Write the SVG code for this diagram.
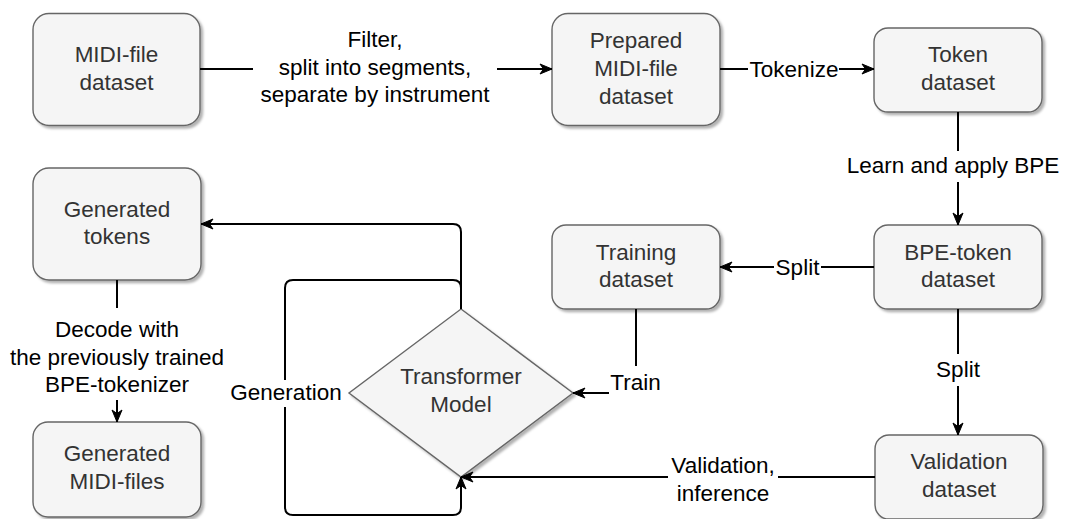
<svg xmlns="http://www.w3.org/2000/svg" width="1072" height="519" viewBox="0 0 1072 519">
  <style>
    .node { fill: #f5f5f5; stroke: #666666; stroke-width: 1.4; filter: url(#shadow); }
    .ntext { font-family: "Liberation Sans", Arial, sans-serif; font-size: 22.5px; fill: #333333; text-anchor: middle; }
    .edge { fill: none; stroke: #000000; stroke-width: 2; }
    .arrow { marker-end: url(#arrowhead); }
    .lbg { fill: #ffffff; }
    .ltext { font-family: "Liberation Sans", Arial, sans-serif; font-size: 22.5px; fill: #000000; text-anchor: middle; }
  </style>
  <defs>
    <filter id="shadow" x="-10%" y="-10%" width="130%" height="130%">
      <feDropShadow dx="2.5" dy="2.5" stdDeviation="1.2" flood-color="#000000" flood-opacity="0.3"/>
    </filter>
    <marker id="arrowhead" markerUnits="userSpaceOnUse" markerWidth="14" markerHeight="12" viewBox="0 0 14 12" refX="13" refY="6" orient="auto">
      <path d="M1,1 L13,6 L1,11 L4.5,6 Z" fill="#000000" stroke="#000000" stroke-width="1"/>
    </marker>
  </defs>
  <rect width="1072" height="519" fill="#ffffff"/>

  <!-- nodes -->
  <g id="midi-dataset">
    <rect class="node" x="33" y="13.5" width="167" height="112" rx="16"/>
    <text class="ntext" x="116.5" y="62">MIDI-file</text>
    <text class="ntext" x="116.5" y="89.5">dataset</text>
  </g>
  <g id="prepared-dataset">
    <rect class="node" x="552" y="13.5" width="168" height="112" rx="16"/>
    <text class="ntext" x="636" y="48">Prepared</text>
    <text class="ntext" x="636" y="76">MIDI-file</text>
    <text class="ntext" x="636" y="103.5">dataset</text>
  </g>
  <g id="token-dataset">
    <rect class="node" x="874" y="28" width="168" height="84" rx="14"/>
    <text class="ntext" x="958" y="62">Token</text>
    <text class="ntext" x="958" y="89.5">dataset</text>
  </g>
  <g id="bpe-token-dataset">
    <rect class="node" x="874" y="225" width="168" height="84" rx="14"/>
    <text class="ntext" x="958" y="259.5">BPE-token</text>
    <text class="ntext" x="958" y="287">dataset</text>
  </g>
  <g id="training-dataset">
    <rect class="node" x="552" y="225" width="168" height="84" rx="14"/>
    <text class="ntext" x="636" y="259.5">Training</text>
    <text class="ntext" x="636" y="287">dataset</text>
  </g>
  <g id="validation-dataset">
    <rect class="node" x="875" y="435" width="168" height="84" rx="14"/>
    <text class="ntext" x="959" y="469">Validation</text>
    <text class="ntext" x="959" y="496.5">dataset</text>
  </g>
  <g id="transformer-model">
    <polygon class="node" points="461,309 573,393 461,477 349,393"/>
    <text class="ntext" x="461" y="384">Transformer</text>
    <text class="ntext" x="461" y="411.5">Model</text>
  </g>
  <g id="generated-tokens">
    <rect class="node" x="33" y="168" width="168" height="112" rx="16"/>
    <text class="ntext" x="117" y="216.5">Generated</text>
    <text class="ntext" x="117" y="244">tokens</text>
  </g>
  <g id="generated-midi">
    <rect class="node" x="33" y="422" width="168" height="95" rx="15"/>
    <text class="ntext" x="117" y="461">Generated</text>
    <text class="ntext" x="117" y="489">MIDI-files</text>
  </g>

  <!-- connectors -->
  <g id="connectors">
    <path class="edge arrow" d="M200,69 H552"/>
    <rect class="lbg" x="253" y="28" width="244" height="82"/>
    <text class="ltext" x="375" y="47">Filter,</text>
    <text class="ltext" x="375" y="74.5">split into segments,</text>
    <text class="ltext" x="375" y="102">separate by instrument</text>

    <path class="edge arrow" d="M720,69 H874"/>
    <rect class="lbg" x="748" y="56" width="91" height="27"/>
    <text class="ltext" x="794" y="77">Tokenize</text>

    <path class="edge arrow" d="M958,112 V225"/>
    <rect class="lbg" x="845" y="151" width="226" height="31"/>
    <text class="ltext" x="953" y="172.5">Learn and apply BPE</text>

    <path class="edge arrow" d="M874,267 H720"/>
    <rect class="lbg" x="774" y="254" width="47" height="26"/>
    <text class="ltext" x="797.5" y="274.5">Split</text>

    <path class="edge arrow" d="M958,309 V435"/>
    <rect class="lbg" x="930" y="354" width="56" height="32"/>
    <text class="ltext" x="958" y="376.5">Split</text>

    <path class="edge arrow" d="M636,309 V393 H573"/>
    <rect class="lbg" x="609" y="366" width="54" height="30"/>
    <text class="ltext" x="635.5" y="390">Train</text>

    <path class="edge arrow" d="M875,477 H461"/>
    <rect class="lbg" x="668" y="450" width="110" height="58"/>
    <text class="ltext" x="723" y="473">Validation,</text>
    <text class="ltext" x="723" y="501">inference</text>

    <path class="edge arrow" d="M461,309 V232 Q461,224 453,224 H201"/>

    <path class="edge arrow" d="M461,309 V288 Q461,280 453,280 H293 Q285,280 285,288 V507 Q285,515 293,515 H453 Q461,515 461,507 V477"/>
    <rect class="lbg" x="230" y="380" width="112" height="27"/>
    <text class="ltext" x="286" y="400">Generation</text>

    <path class="edge arrow" d="M117,280 V422"/>
    <rect class="lbg" x="9" y="308" width="216" height="92"/>
    <text class="ltext" x="117" y="337">Decode with</text>
    <text class="ltext" x="117" y="364.5">the previously trained</text>
    <text class="ltext" x="117" y="392">BPE-tokenizer</text>
  </g>
</svg>
